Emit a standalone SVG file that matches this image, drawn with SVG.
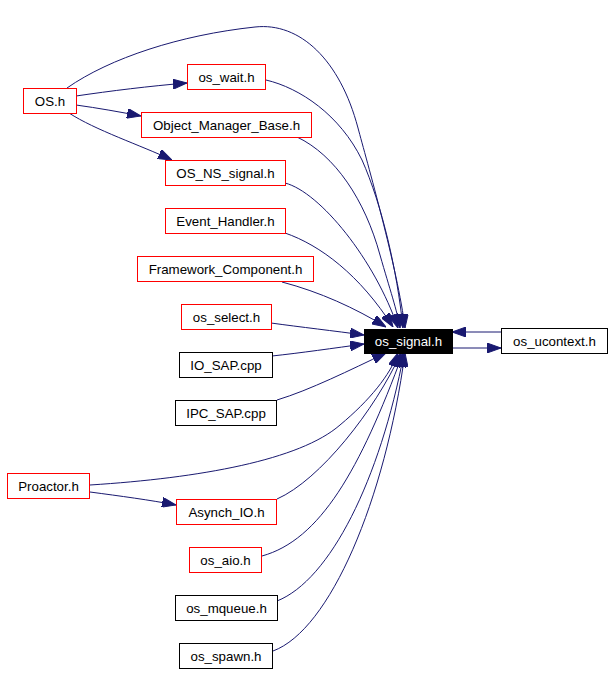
<svg xmlns="http://www.w3.org/2000/svg" width="613" height="673" viewBox="0 0 613 673">
<style>
.n rect{fill:#fff;stroke:#f00;stroke-width:1}
.n.b rect{stroke:#000}
.n.s rect{fill:#000;stroke:#000}
.n text{font-family:"Liberation Sans",Arial,sans-serif;font-size:13.3px;fill:#000;text-anchor:middle}
.n.s text{fill:#fff}
#edges path{fill:none;stroke:#191970;stroke-width:1;marker-end:url(#ah)}
</style>
<defs>
<marker id="ah" markerUnits="userSpaceOnUse" markerWidth="14" markerHeight="10" viewBox="0 0 14 10" refX="14" refY="5" orient="auto">
<path d="M0,0 L14,5 L0,10 z" fill="#191970" stroke="#191970" stroke-width="1"/>
</marker>
</defs>
<rect width="613" height="673" fill="#fff"/>
<g id="edges">
<path d="M67,88 C110,58 180,35 255,27 C300,22 340,60 358,128 C366,158 398,270 405,328"/>
<path d="M266,80 C300,88 340,115 362,160 C382,205 397,270 403,328"/>
<path d="M297,137 C335,155 365,200 380,255 C390,290 397,310 400,328"/>
<path d="M285,183 C320,192 375,260 398,328"/>
<path d="M285,233 C320,245 360,275 393,327"/>
<path d="M282,282 C320,292 355,308 386,327"/>
<path d="M271,323 C300,327 335,331 364,335"/>
<path d="M272,356 C300,353 335,348 364,344"/>
<path d="M277,400 C310,390 350,370 386,353"/>
<path d="M90,485 C200,478 300,460 340,425 C370,400 390,375 398,353"/>
<path d="M277,499 C320,480 375,410 401,353"/>
<path d="M262,556 C320,540 360,470 403,353"/>
<path d="M277,601 C330,580 380,480 404,353"/>
<path d="M273,651 C330,630 385,500 405,353"/>
<path d="M76,96 C110,91 150,86 187,83"/>
<path d="M76,105 C98,108 120,112 141,116"/>
<path d="M69,113 C95,130 140,145 172,160"/>
<path d="M90,492 C120,496 150,500 176,505"/>
<path d="M452,348 L501,348"/>
<path d="M501,332 L452,332"/>
</g>
<g id="n_os_signal" class="n s"><rect x="364.5" y="329.5" width="88" height="24"/><text x="408.5" y="346">os_signal.h</text></g>
<g id="n_os_ucontext" class="n b"><rect x="501.5" y="328.5" width="106" height="25"/><text x="554.5" y="346">os_ucontext.h</text></g>
<g id="n_OS" class="n"><rect x="23.5" y="88.5" width="53" height="25"/><text x="50" y="106">OS.h</text></g>
<g id="n_os_wait" class="n"><rect x="187.5" y="64.5" width="78" height="25"/><text x="226.5" y="82">os_wait.h</text></g>
<g id="n_Object_Manager_Base" class="n"><rect x="141.5" y="112.5" width="170" height="25"/><text x="226.5" y="130">Object_Manager_Base.h</text></g>
<g id="n_OS_NS_signal" class="n"><rect x="165.5" y="160.5" width="120" height="25"/><text x="225.5" y="178">OS_NS_signal.h</text></g>
<g id="n_Event_Handler" class="n"><rect x="165.5" y="208.5" width="120" height="25"/><text x="225.5" y="226">Event_Handler.h</text></g>
<g id="n_Framework_Component" class="n"><rect x="137.5" y="256.5" width="176" height="25"/><text x="225.5" y="274">Framework_Component.h</text></g>
<g id="n_os_select" class="n"><rect x="181.5" y="304.5" width="90" height="25"/><text x="226.5" y="322">os_select.h</text></g>
<g id="n_IO_SAP" class="n b"><rect x="179.5" y="352.5" width="93" height="25"/><text x="226" y="370">IO_SAP.cpp</text></g>
<g id="n_IPC_SAP" class="n b"><rect x="175.5" y="400.5" width="101" height="25"/><text x="226" y="418">IPC_SAP.cpp</text></g>
<g id="n_Proactor" class="n"><rect x="7.5" y="473.5" width="82" height="25"/><text x="48.5" y="491">Proactor.h</text></g>
<g id="n_Asynch_IO" class="n"><rect x="176.5" y="499.5" width="100" height="25"/><text x="226.5" y="517">Asynch_IO.h</text></g>
<g id="n_os_aio" class="n"><rect x="189.5" y="547.5" width="72" height="25"/><text x="225.5" y="565">os_aio.h</text></g>
<g id="n_os_mqueue" class="n b"><rect x="175.5" y="595.5" width="102" height="25"/><text x="226.5" y="613">os_mqueue.h</text></g>
<g id="n_os_spawn" class="n b"><rect x="179.5" y="643.5" width="93" height="25"/><text x="226" y="661">os_spawn.h</text></g>
</svg>
